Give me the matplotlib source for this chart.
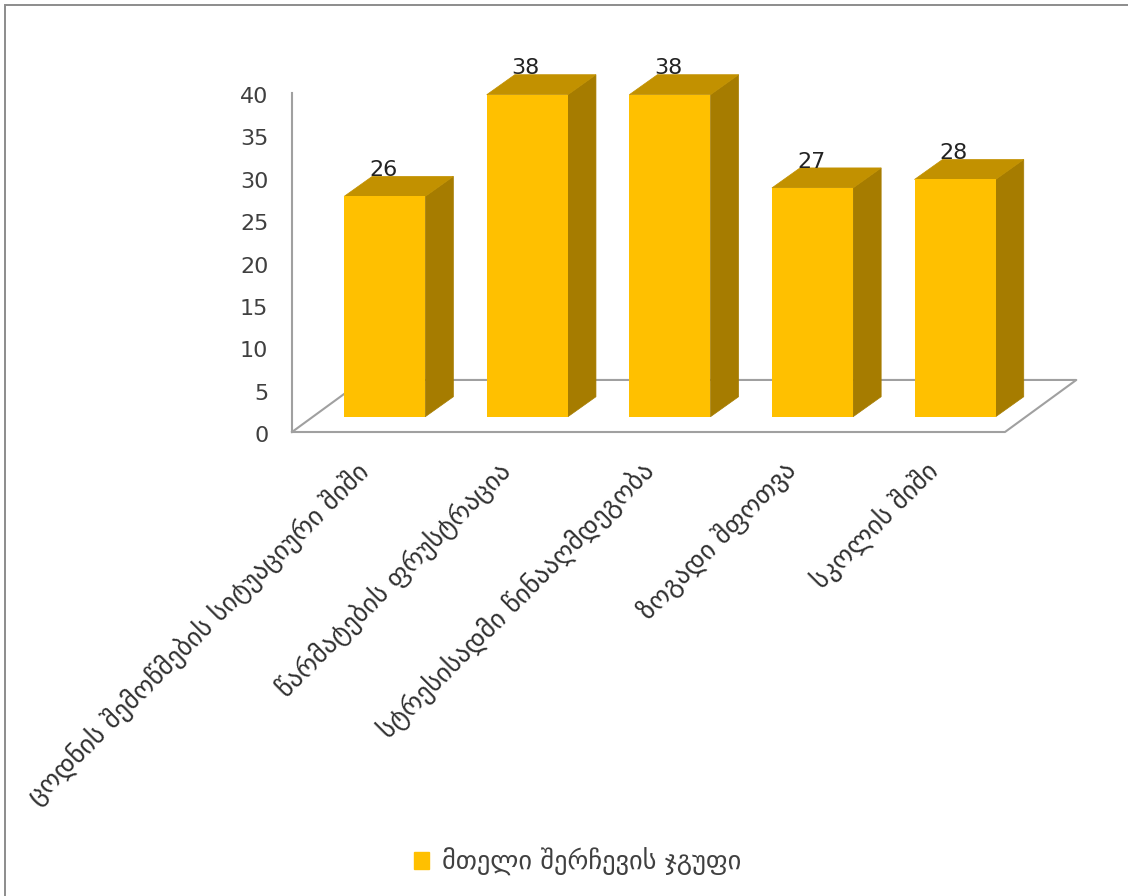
import matplotlib
matplotlib.use('Agg')
import matplotlib.pyplot as plt
from matplotlib.patches import Patch, Rectangle
from matplotlib.transforms import ScaledTranslation

categories = ['ცოდნის შემოწმების სიტუაციური შიში',
              'წარმატების ფრუსტრაცია',
              'სტრესისადმი წინააღმდეგობა',
              'ზოგადი შფოთვა',
              'სკოლის შიში']
values = [26, 38, 38, 27, 28]
yticks = [0, 5, 10, 15, 20, 25, 30, 35, 40]
series_name = 'მთელი შერჩევის ჯგუფი'

W, H = 1128, 896
front_col = '#FFC000'
side_col = '#A67C00'
top_col = '#C29100'
axis_col = '#A0A0A0'
text_col = '#404040'

fig = plt.figure(figsize=(W/100, H/100), dpi=100)
# plot area is the front edge of the floor, 292-1005 px across, 93-432 px down
ax = fig.add_axes([292/W, 1-432/H, 713/W, 339/H])
ax.set_xlim(-0.5, 4.5)
ax.set_ylim(0, 40)
ax.patch.set_visible(False)
for s in ['top', 'right', 'bottom']:
    ax.spines[s].set_visible(False)
ax.spines['left'].set_color(axis_col)
ax.spines['left'].set_linewidth(1.5)

# fake 3d depth in data units
floor_dx = 0.5
floor_dy = 6.14
bar_off_x = 0.15
bar_off_y = 1.8
bar_dx = 0.197
bar_dy = 2.36
bar_w = 0.569

# floor
ax.plot([-0.5, 4.5, 4.5+floor_dx, -0.5+floor_dx, -0.5],
        [0, 0, floor_dy, floor_dy, 0],
        color=axis_col, lw=1.5, clip_on=False, zorder=1)

for i, v in enumerate(values):
    x0 = i + bar_off_x - bar_w/2
    x1 = x0 + bar_w
    b = bar_off_y
    t = bar_off_y + v
    ax.fill([x1, x1+bar_dx, x1+bar_dx, x1], [b, b+bar_dy, t+bar_dy, t],
            fc=side_col, ec=side_col, lw=0.5, clip_on=False, zorder=2)
    ax.fill([x0, x1, x1+bar_dx, x0+bar_dx], [t, t, t+bar_dy, t+bar_dy],
            fc=top_col, ec=top_col, lw=0.5, clip_on=False, zorder=2)
    ax.bar(x0, v, width=bar_w, bottom=b, align='edge', color=front_col,
           clip_on=False, zorder=3)
    ax.text(i + bar_off_x - 0.01, t + 3.1, str(v), ha='center', va='center',
            fontsize=16, family='DejaVu Sans', color='#222222', zorder=4)

ax.set_yticks(yticks)
ax.set_yticklabels([str(t) for t in yticks], fontsize=16, family='DejaVu Sans',
                   color=text_col)
ax.tick_params(axis='y', length=0, pad=17)
for lab in ax.get_yticklabels():
    lab.set_transform(lab.get_transform() + ScaledTranslation(0, -2/100, fig.dpi_scale_trans))

ax.set_xticks(range(len(categories)))
ax.set_xticklabels(categories, rotation=45, ha='right', va='top',
                   rotation_mode='anchor', fontsize=19, family='DejaVu Sans',
                   color='#303030')
ax.tick_params(axis='x', length=0, pad=18)
for lab in ax.get_xticklabels():
    lab.set_transform(lab.get_transform() + ScaledTranslation(-9/100, 0, fig.dpi_scale_trans))

fig.legend(handles=[Patch(color=front_col, label=series_name)],
           loc='center', bbox_to_anchor=(578/W, 1-862/H), frameon=False,
           fontsize=19, handlelength=0.57, handleheight=0.57, labelcolor=text_col,
           handletextpad=0.5)

# outer chart border
fig.add_artist(Rectangle((5/W, -0.01), 1.1, 1.01-5/H, transform=fig.transFigure,
                         fill=False, ec='#8C8C8C', lw=1.4))

fig.savefig('out.png', dpi=100)
